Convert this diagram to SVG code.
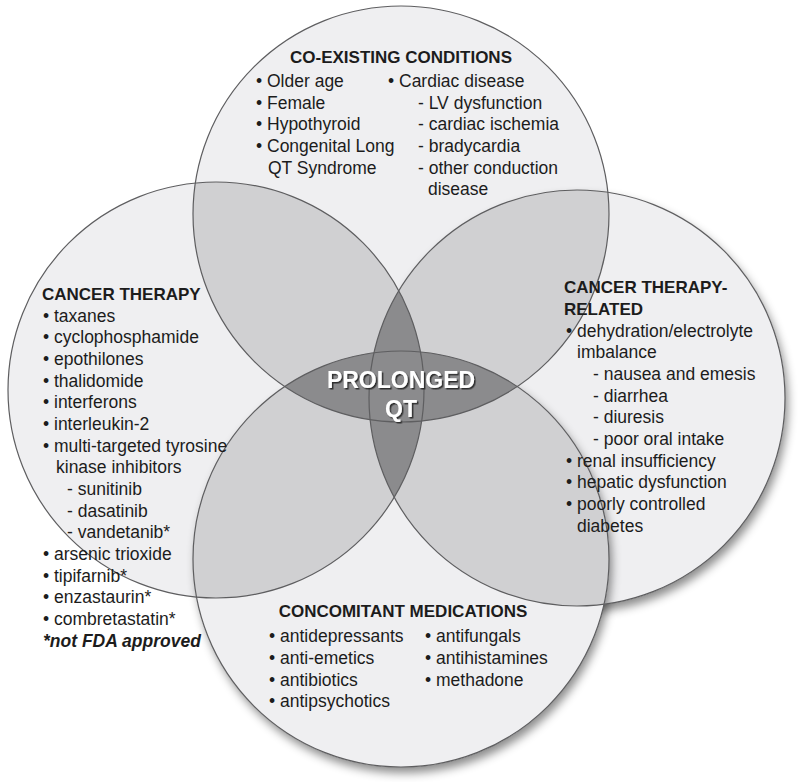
<svg xmlns="http://www.w3.org/2000/svg" width="800" height="782" viewBox="0 0 800 782">
<defs>
<style>
.base{fill:#efeff1}
.mid{fill:#d0d0d2}
.dark{fill:#8b8b8d}
.edge{fill:none;stroke:#5e5e60;stroke-width:1.2}
text{font-family:"Liberation Sans",Arial,sans-serif;fill:#1c1c1c}
.t{font-size:17px;font-weight:bold}
.b{font-size:17.5px}
.note{font-size:17.5px;font-weight:bold;font-style:italic}
.center{font-size:23px;font-weight:bold;fill:#ffffff;text-anchor:middle}
</style>
<clipPath id="cT"><circle cx="401" cy="214" r="208"/></clipPath>
<clipPath id="cB"><circle cx="401" cy="559" r="208"/></clipPath>
<clipPath id="cL"><circle cx="216" cy="390" r="208"/></clipPath>
<filter id="sh" x="-20%" y="-20%" width="140%" height="140%">
<feDropShadow dx="3" dy="6" stdDeviation="5" flood-color="#000" flood-opacity="0.45"/>
</filter>
<filter id="ts" x="-10%" y="-30%" width="120%" height="160%">
<feDropShadow dx="1.5" dy="1.5" stdDeviation="0.7" flood-color="#222" flood-opacity="0.9"/>
</filter>
</defs>
<rect width="800" height="782" fill="#ffffff"/>
<g id="circles">
<circle class="base" cx="216" cy="390" r="208"/>
<circle class="base" cx="401" cy="214" r="208"/>
<circle class="base" cx="577" cy="398" r="208" filter="url(#sh)"/>
<circle class="base" cx="401" cy="559" r="208" filter="url(#sh)"/>
<circle class="mid" cx="216" cy="390" r="208" clip-path="url(#cT)"/>
<circle class="mid" cx="577" cy="398" r="208" clip-path="url(#cT)"/>
<circle class="mid" cx="216" cy="390" r="208" clip-path="url(#cB)"/>
<circle class="mid" cx="577" cy="398" r="208" clip-path="url(#cB)"/>
<circle class="dark" cx="401" cy="559" r="208" clip-path="url(#cT)"/>
<circle class="dark" cx="577" cy="398" r="208" clip-path="url(#cL)"/>
<circle class="edge" cx="216" cy="390" r="208"/>
<circle class="edge" cx="401" cy="214" r="208"/>
<circle class="edge" cx="577" cy="398" r="208"/>
<circle class="edge" cx="401" cy="559" r="208"/>
</g>
<g id="coexisting">
<text class="t" x="401" y="63" text-anchor="middle">CO-EXISTING CONDITIONS</text>
<text class="b" x="256" y="87">• Older age</text>
<text class="b" x="256" y="108.7">• Female</text>
<text class="b" x="256" y="130.3">• Hypothyroid</text>
<text class="b" x="256" y="152">• Congenital Long</text>
<text class="b" x="268" y="173.7">QT Syndrome</text>
<text class="b" x="388" y="87">• Cardiac disease</text>
<text class="b" x="418" y="108.7">- LV dysfunction</text>
<text class="b" x="418" y="130.3">- cardiac ischemia</text>
<text class="b" x="418" y="152">- bradycardia</text>
<text class="b" x="418" y="173.7">- other conduction</text>
<text class="b" x="428" y="195.3">disease</text>
</g>
<g id="cancer-therapy">
<text class="t" x="42" y="300">CANCER THERAPY</text>
<text class="b" x="43" y="321.7">• taxanes</text>
<text class="b" x="43" y="343.3">• cyclophosphamide</text>
<text class="b" x="43" y="365">• epothilones</text>
<text class="b" x="43" y="386.7">• thalidomide</text>
<text class="b" x="43" y="408.3">• interferons</text>
<text class="b" x="43" y="430">• interleukin-2</text>
<text class="b" x="43" y="451.7">• multi-targeted tyrosine</text>
<text class="b" x="56" y="473.3">kinase inhibitors</text>
<text class="b" x="67" y="495">- sunitinib</text>
<text class="b" x="67" y="516.7">- dasatinib</text>
<text class="b" x="67" y="538.3">- vandetanib*</text>
<text class="b" x="43" y="560">• arsenic trioxide</text>
<text class="b" x="43" y="581.7">• tipifarnib*</text>
<text class="b" x="43" y="603.3">• enzastaurin*</text>
<text class="b" x="43" y="625">• combretastatin*</text>
<text class="note" x="43" y="646.7">*not FDA approved</text>
</g>
<g id="therapy-related">
<text class="t" x="564" y="293.3">CANCER THERAPY-</text>
<text class="t" x="564" y="315">RELATED</text>
<text class="b" x="566" y="336.7">• dehydration/electrolyte</text>
<text class="b" x="577" y="358.3">imbalance</text>
<text class="b" x="593" y="380">- nausea and emesis</text>
<text class="b" x="593" y="401.7">- diarrhea</text>
<text class="b" x="593" y="423.3">- diuresis</text>
<text class="b" x="593" y="445">- poor oral intake</text>
<text class="b" x="566" y="466.7">• renal insufficiency</text>
<text class="b" x="566" y="488.3">• hepatic dysfunction</text>
<text class="b" x="566" y="510">• poorly controlled</text>
<text class="b" x="577" y="531.7">diabetes</text>
</g>
<g id="concomitant">
<text class="t" x="403" y="617.3" text-anchor="middle">CONCOMITANT MEDICATIONS</text>
<text class="b" x="269" y="642.3">• antidepressants</text>
<text class="b" x="269" y="664">• anti-emetics</text>
<text class="b" x="269" y="685.7">• antibiotics</text>
<text class="b" x="269" y="707.3">• antipsychotics</text>
<text class="b" x="425" y="642.3">• antifungals</text>
<text class="b" x="425" y="664">• antihistamines</text>
<text class="b" x="425" y="685.7">• methadone</text>
</g>
<g id="prolonged-qt" filter="url(#ts)">
<text class="center" x="401" y="388">PROLONGED</text>
<text class="center" x="401" y="416.7">QT</text>
</g>
</svg>
